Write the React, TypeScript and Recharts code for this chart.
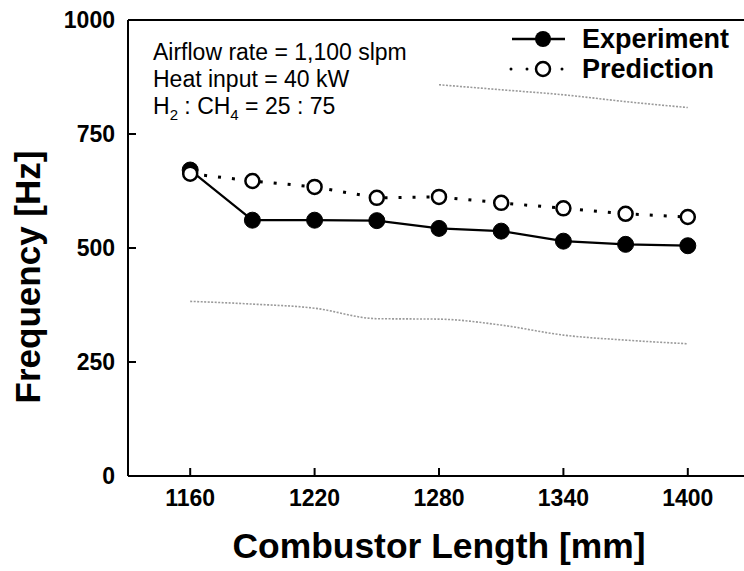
import {
  Label,
  Line,
  LineChart,
  ReferenceLine,
  XAxis,
  YAxis,
} from "recharts";

const lengths = [1160, 1190, 1220, 1250, 1280, 1310, 1340, 1370, 1400];
const experiment = [671, 561, 561, 560, 543, 537, 515, 508, 505];
const prediction = [663, 647, 634, 610, 612, 599, 587, 575, 568];
const upperBound = [null, null, null, null, 858, 847, 836, 821, 808];
const lowerBound = [383, 377, 368, 345, 344, 331, 309, 298, 290];

const xTicks = [1160, 1220, 1280, 1340, 1400];
const yTicks = [0, 250, 500, 750, 1000];

const data = lengths.map((len, i) => ({
  len,
  experiment: experiment[i],
  prediction: prediction[i],
  upper: upperBound[i],
  lower: lowerBound[i],
}));

const FONT = "Arial, 'Liberation Sans', Helvetica, sans-serif";

function ChartLegend() {
  const rows = [
    { label: "Experiment", open: false },
    { label: "Prediction", open: true },
  ];
  return (
    <div
      style={{
        position: "absolute",
        left: 508,
        top: 24,
        fontFamily: FONT,
        fontWeight: 700,
        fontSize: 27,
        color: "#000",
      }}
    >
      {rows.map((row) => (
        <div
          key={row.label}
          style={{ display: "flex", alignItems: "center", height: 30 }}
        >
          <svg width={74} height={20}>
            {row.open ? (
              <>
                <circle cx={3} cy={10} r={1.5} fill="#000" />
                <circle cx={19} cy={10} r={1.5} fill="#000" />
                <circle cx={54} cy={10} r={1.5} fill="#000" />
                <circle cx={35} cy={10} r={7} fill="#fff" stroke="#000" strokeWidth={2.5} />
              </>
            ) : (
              <>
                <line x1={4} y1={10} x2={57} y2={10} stroke="#000" strokeWidth={2.5} />
                <circle cx={35} cy={10} r={8} fill="#000" />
              </>
            )}
          </svg>
          <span style={{ lineHeight: "30px" }}>{row.label}</span>
        </div>
      ))}
    </div>
  );
}

export default function App() {
  return (
    <div
      style={{
        position: "absolute",
        left: 0,
        top: 0,
        width: 744,
        height: 571,
        overflow: "hidden",
        background: "#fff",
      }}
    >
      <LineChart
        width={760}
        height={571}
        data={data}
        margin={{ top: 20, right: 10, bottom: 0, left: 0 }}
      >
        <XAxis
          dataKey="len"
          type="number"
          domain={[1130, 1430]}
          ticks={xTicks}
          height={95}
          stroke="#000"
          strokeWidth={2}
          tickSize={-8}
          tickMargin={22}
          tick={{ fill: "#000", fontSize: 23, fontWeight: 700, fontFamily: FONT }}
        >
          <Label
            content={({ viewBox }: any) => (
              <text
                x={viewBox.x + viewBox.width / 2}
                y={558}
                textAnchor="middle"
                fontFamily={FONT}
                fontWeight={700}
                fontSize={35}
                textLength={413}
                lengthAdjust="spacingAndGlyphs"
                fill="#000"
              >
                Combustor Length [mm]
              </text>
            )}
          />
        </XAxis>
        <YAxis
          type="number"
          domain={[0, 1000]}
          ticks={yTicks}
          width={128}
          stroke="#000"
          strokeWidth={2}
          tickSize={-8}
          tickMargin={21}
          tick={{ fill: "#000", fontSize: 23, fontWeight: 700, fontFamily: FONT }}
        >
          <Label
            content={() => (
              <text
                x={40}
                y={277}
                transform="rotate(-90, 40, 277)"
                textAnchor="middle"
                fontFamily={FONT}
                fontWeight={700}
                fontSize={35}
                fill="#000"
              >
                Frequency [Hz]
              </text>
            )}
          />
        </YAxis>
        <ReferenceLine y={1000} stroke="#000" strokeWidth={2} />
        <Line
          dataKey="upper"
          type="monotone"
          stroke="#9a9a9a"
          strokeWidth={1.6}
          strokeDasharray="2 1.5"
          dot={false}
          activeDot={false}
          isAnimationActive={false}
        />
        <Line
          dataKey="lower"
          type="monotone"
          stroke="#9a9a9a"
          strokeWidth={1.6}
          strokeDasharray="2 1.5"
          dot={false}
          activeDot={false}
          isAnimationActive={false}
        />
        <Line
          dataKey="experiment"
          type="linear"
          stroke="#000"
          strokeWidth={2.2}
          dot={{ r: 8, fill: "#000", stroke: "#000", strokeWidth: 1 }}
          isAnimationActive={false}
        />
        <Line
          dataKey="prediction"
          type="linear"
          stroke="#000"
          strokeWidth={3}
          strokeDasharray="3 11"
          dot={{ r: 7, fill: "#fff", stroke: "#000", strokeWidth: 2.5, strokeDasharray: "0" }}
          isAnimationActive={false}
        />
      </LineChart>
      <ChartLegend />
      <div
        style={{
          position: "absolute",
          left: 153,
          top: 39,
          fontFamily: FONT,
          fontSize: 23,
          lineHeight: "27px",
          color: "#000",
        }}
      >
        <div>Airflow rate = 1,100 slpm</div>
        <div>Heat input = 40 kW</div>
        <div>
          H<span style={{ fontSize: 15, position: "relative", top: 6 }}>2</span> : CH
          <span style={{ fontSize: 15, position: "relative", top: 6 }}>4</span> = 25 : 75
        </div>
      </div>
    </div>
  );
}
